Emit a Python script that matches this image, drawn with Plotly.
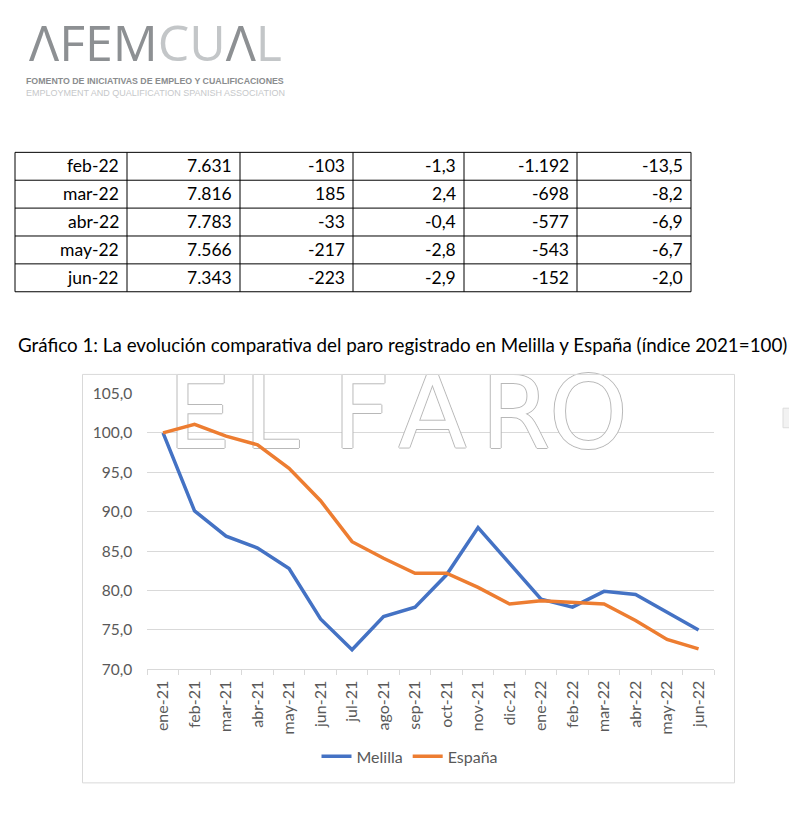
import plotly.graph_objects as go

W, H = 789, 830

# ---------------- data ----------------
table_months = ["feb-22", "mar-22", "abr-22", "may-22", "jun-22"]
table_paro = ["7.631", "7.816", "7.783", "7.566", "7.343"]
table_var_mens = ["-103", "185", "-33", "-217", "-223"]
table_var_mens_pct = ["-1,3", "2,4", "-0,4", "-2,8", "-2,9"]
table_var_anual = ["-1.192", "-698", "-577", "-543", "-152"]
table_var_anual_pct = ["-13,5", "-8,2", "-6,9", "-6,7", "-2,0"]

months = ["ene-21", "feb-21", "mar-21", "abr-21", "may-21", "jun-21", "jul-21",
          "ago-21", "sep-21", "oct-21", "nov-21", "dic-21", "ene-22", "feb-22",
          "mar-22", "abr-22", "may-22", "jun-22"]
melilla = [100.0, 90.1, 86.9, 85.4, 82.8, 76.4, 72.5, 76.7, 77.9, 82.0, 88.0,
           83.4, 78.9, 77.9, 79.9, 79.5, 77.2, 75.0]
espana = [100.0, 101.1, 99.6, 98.5, 95.5, 91.4, 86.2, 84.1, 82.2, 82.2, 80.4,
          78.3, 78.7, 78.5, 78.3, 76.2, 73.8, 72.6]
yticks = [70, 75, 80, 85, 90, 95, 100, 105]

title_text = "Gráfico 1: La evolución comparativa del paro registrado en Melilla y España (índice 2021=100)"

FONT = "Lato"
TXT = "#595959"


def px(x):
    return x / W


def py(y):
    return 1 - y / H


fig = go.Figure()

# watermark (decorative) drawn beneath the series
wm_letters = ["E", "L", "F", "A", "R", "O"]
wm_x = [1.15, 3.45, 6.3, 8.55, 11.2, 13.5]
fig.add_trace(go.Scatter(
    x=wm_x, y=[101.2] * len(wm_letters), mode="text", text=wm_letters,
    textfont=dict(family="DejaVu Sans", size=100, color="white",
                  shadow="1px 0 0 #b8b8b8, -1px 0 0 #b8b8b8, 0 1px 0 #b8b8b8, 0 -1px 0 #b8b8b8"),
    cliponaxis=False, showlegend=False, hoverinfo="skip"))

xi = list(range(len(months)))
fig.add_trace(go.Scatter(x=xi, y=melilla, mode="lines", name="Melilla",
                         line=dict(color="#4472C4", width=3.5)))
fig.add_trace(go.Scatter(x=xi, y=espana, mode="lines", name="España",
                         line=dict(color="#ED7D31", width=3.5)))

fig.update_layout(
    width=W, height=H,
    margin=dict(l=0, r=0, t=0, b=0),
    paper_bgcolor="white", plot_bgcolor="white",
    separators=",.",
    font=dict(family=FONT, color=TXT),
    legend=dict(orientation="h", x=px(410), y=py(763), xanchor="center",
                yanchor="middle", font=dict(size=16, color=TXT),
                itemwidth=30, tracegroupgap=0),
    xaxis=dict(domain=[px(147.3), px(714.3)], range=[-0.5, len(months) - 0.5],
               tickvals=xi, ticktext=months, tickangle=-90, ticks="",
               tickfont=dict(size=16, color=TXT), showgrid=False,
               showline=True, linecolor="#d9d9d9", linewidth=1,
               zeroline=False, ticklabelstandoff=4,
               minor=dict(tickvals=[i - 0.5 for i in range(len(months) + 1)],
                          ticks="outside", ticklen=5, tickcolor="#d9d9d9",
                          showgrid=False)),
    yaxis=dict(domain=[py(674), py(392)], range=[70, 105], tickvals=yticks,
               tickformat=".1f", tickfont=dict(size=15.5, color=TXT),
               showgrid=True, gridcolor="#d9d9d9", gridwidth=1,
               zeroline=False, showline=False, ticklabelstandoff=14),
)

shapes = []
annotations = []

# chart outer border
shapes.append(dict(type="rect", xref="paper", yref="paper", x0=px(82.5), x1=px(734.5),
                   y0=py(790), y1=py(372.5), line=dict(color="#d9d9d9", width=1)))
# small grey box at right edge
shapes.append(dict(type="rect", xref="paper", yref="paper", x0=px(783), x1=px(792),
                   y0=py(427), y1=py(407), line=dict(color="#dcdcdc", width=1),
                   fillcolor="#f2f2f2"))

# ---------------- table ----------------
col_edges = [15, 127, 240, 353, 464, 577, 691]
row_top, row_h = 145.5, 28.5
nrows = len(table_months)
for ce in col_edges:
    shapes.append(dict(type="line", xref="paper", yref="paper", x0=px(ce), x1=px(ce),
                       y0=py(row_top), y1=py(row_top + nrows * row_h),
                       line=dict(color="black", width=1)))
for r in range(nrows + 1):
    yy = row_top + r * row_h
    shapes.append(dict(type="line", xref="paper", yref="paper", x0=px(col_edges[0]),
                       x1=px(col_edges[-1]), y0=py(yy), y1=py(yy),
                       line=dict(color="black", width=1)))
columns = [table_months, table_paro, table_var_mens, table_var_mens_pct,
           table_var_anual, table_var_anual_pct]
for c, col in enumerate(columns):
    for r, val in enumerate(col):
        annotations.append(dict(xref="paper", yref="paper", x=px(col_edges[c + 1] - 6),
                                y=py(row_top + r * row_h + row_h / 2 - 0.5),
                                xanchor="right", yanchor="middle", text=val,
                                showarrow=False, font=dict(family=FONT, size=17.5, color="black")))

# ---------------- title ----------------
annotations.append(dict(xref="paper", yref="paper", x=px(16), y=py(342), xanchor="left",
                        yanchor="middle", text=title_text, showarrow=False,
                        font=dict(family=FONT, size=18.8, color="black")))

# ---------------- logo ----------------
logo = ('<span style="color:#8d9093">ΛFEM</span><span style="color:#c3c6c8">CU</span>'
        '<span style="color:#8d9093">Λ</span><span style="color:#c3c6c8">L</span>')
annotations.append(dict(xref="paper", yref="paper", x=px(27), y=py(33), xanchor="left",
                        yanchor="middle", text=logo, showarrow=False,
                        font=dict(family="Open Sans", size=50, color="#8d9093", weight=400)))
annotations.append(dict(xref="paper", yref="paper", x=px(24), y=py(73), xanchor="left",
                        yanchor="middle", text="FOMENTO DE INICIATIVAS DE EMPLEO Y CUALIFICACIONES",
                        showarrow=False, font=dict(family="Liberation Sans", size=8.8,
                                                   color="#8a8c8e", weight=700)))
annotations.append(dict(xref="paper", yref="paper", x=px(24), y=py(85), xanchor="left",
                        yanchor="middle", text="EMPLOYMENT AND QUALIFICATION SPANISH ASSOCIATION",
                        showarrow=False, font=dict(family="Liberation Sans", size=9.0,
                                                   color="#c6c8ca")))

fig.update_layout(shapes=shapes, annotations=annotations)
fig.write_html("out.html")
